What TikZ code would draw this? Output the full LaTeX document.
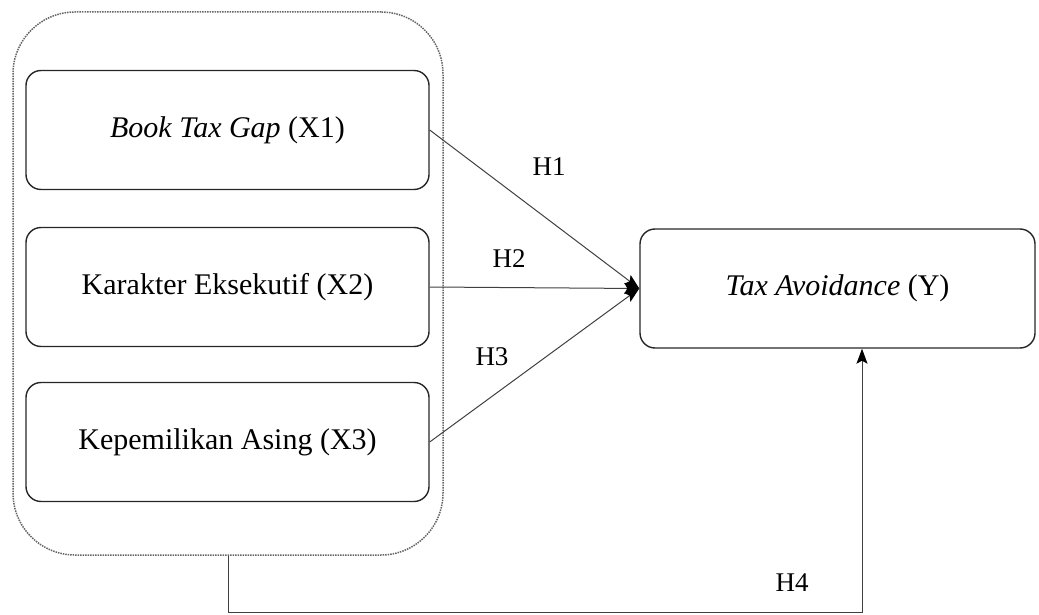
\documentclass[tikz,border=0pt]{standalone}
\usepackage{fontspec}
\setmainfont{Liberation Serif}
\usetikzlibrary{arrows.meta}
\begin{document}
\begin{tikzpicture}[x=1pt,y=-1pt,
  varbox/.style={draw=black!85, line width=1.4pt, rounded corners=15pt, minimum width=403pt, minimum height=119pt, inner sep=0pt, font=\fontsize{30}{34}\selectfont},
  groupbox/.style={draw=black!60, densely dotted, line width=1.5pt, rounded corners=62pt, minimum width=430pt, minimum height=543pt, inner sep=0pt},
  conn/.style={draw=black!75, line width=1pt, -{Stealth[length=15pt,width=11pt,inset=3pt,black]}},
  hlabel/.style={font=\fontsize{27}{30}\selectfont, inner sep=0pt}
]
\useasboundingbox (0,0) rectangle (1039,615);
\node[groupbox] (outer) at (228,283.5) {};
\node[varbox] (x1) at (227.5,130) {\textit{Book Tax Gap} (X1)};
\node[varbox] (x2) at (227.5,287) {Karakter Eksekutif (X2)};
\node[varbox] (x3) at (227.5,442) {Kepemilikan Asing (X3)};
\node[varbox, minimum width=395pt] (y) at (837.5,288.5) {\textit{Tax Avoidance} (Y)};
\coordinate (tgt) at (y.west);
\draw[conn] (x1.east) -- (tgt);
\draw[conn] (x2.east) -- (tgt);
\draw[conn] (x3.east) -- (tgt);
\coordinate (h4c) at (862,612);
\draw[conn] (outer.south) |- (h4c) -- (h4c |- y.south);
\node[hlabel] (h1) at (549,167) {H1};
\node[hlabel] (h2) at (509,259) {H2};
\node[hlabel] (h3) at (492,357) {H3};
\node[hlabel] (h4) at (792,583) {H4};
\end{tikzpicture}
\end{document}
